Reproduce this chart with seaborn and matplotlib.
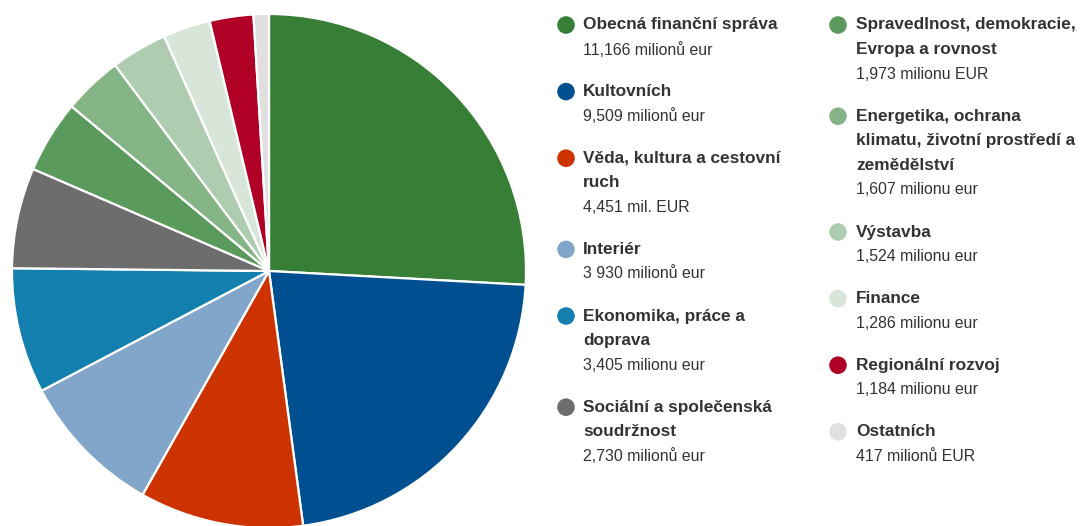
import matplotlib
matplotlib.use("Agg")
import matplotlib.pyplot as plt
import seaborn as sns

sns.set_theme(style="white")
plt.rcParams['font.family'] = ['Liberation Sans', 'DejaVu Sans']

categories = [
    "Obecná finanční správa",
    "Kultovních",
    "Věda, kultura a cestovní\nruch",
    "Interiér",
    "Ekonomika, práce a\ndoprava",
    "Sociální a společenská\nsoudržnost",
    "Spravedlnost, demokracie,\nEvropa a rovnost",
    "Energetika, ochrana\nklimatu, životní prostředí a\nzemědělství",
    "Výstavba",
    "Finance",
    "Regionální rozvoj",
    "Ostatních",
]
values = [11166, 9509, 4451, 3930, 3405, 2730, 1973, 1607, 1524, 1286, 1184, 417]
value_labels = [
    "11,166 milionů eur",
    "9,509 milionů eur",
    "4,451 mil. EUR",
    "3 930 milionů eur",
    "3,405 milionu eur",
    "2,730 milionů eur",
    "1,973 milionu EUR",
    "1,607 milionu eur",
    "1,524 milionu eur",
    "1,286 milionu eur",
    "1,184 milionu eur",
    "417 milionů EUR",
]
colors = ["#377f36", "#004f91", "#cc3300", "#81a6c9", "#137fae", "#6d6d6d",
          "#5a9a5c", "#85b487", "#aecdb0", "#d7e6d8", "#b00025", "#e0e0e0"]
palette = sns.color_palette(colors)

W, H = 1085, 526
fig = plt.figure(figsize=(W / 100, H / 100), dpi=100)

# pie axes (pixel geometry)
cx, cy, r = 269, 271, 257
ax = fig.add_axes([(cx - r) / W, (H - cy - r) / H, 2 * r / W, 2 * r / H])
wedges, _ = ax.pie(values, colors=palette, startangle=90, counterclock=False,
                   wedgeprops=dict(edgecolor="white", linewidth=1.6))
for w in wedges:
    w.set_clip_on(False)
ax.set_xlim(-1, 1)
ax.set_ylim(-1, 1)
ax.set_axis_off()

# legend overlay in pixel coordinates
lax = fig.add_axes([0, 0, 1, 1])
lax.set_xlim(0, W)
lax.set_ylim(H, 0)
lax.set_axis_off()

line_step = 24.6
entry_gap = 42
cols = [(566, 583, range(0, 6)), (838, 856, range(6, 12))]
fs_title = 12.4
fs_value = 11.4
for mx, tx, idxs in cols:
    y = 25
    for i in idxs:
        lax.scatter([mx], [y], s=160, color=palette[i], edgecolors="none", zorder=3)
        for line in categories[i].split("\n"):
            lax.text(tx, y, line, fontsize=fs_title, fontweight="bold", color="#333333",
                     va="center", ha="left")
            y += line_step
        lax.text(tx, y, value_labels[i], fontsize=fs_value, color="#333333",
                 va="center", ha="left")
        y += entry_gap

fig.savefig("out.png", dpi=100)
